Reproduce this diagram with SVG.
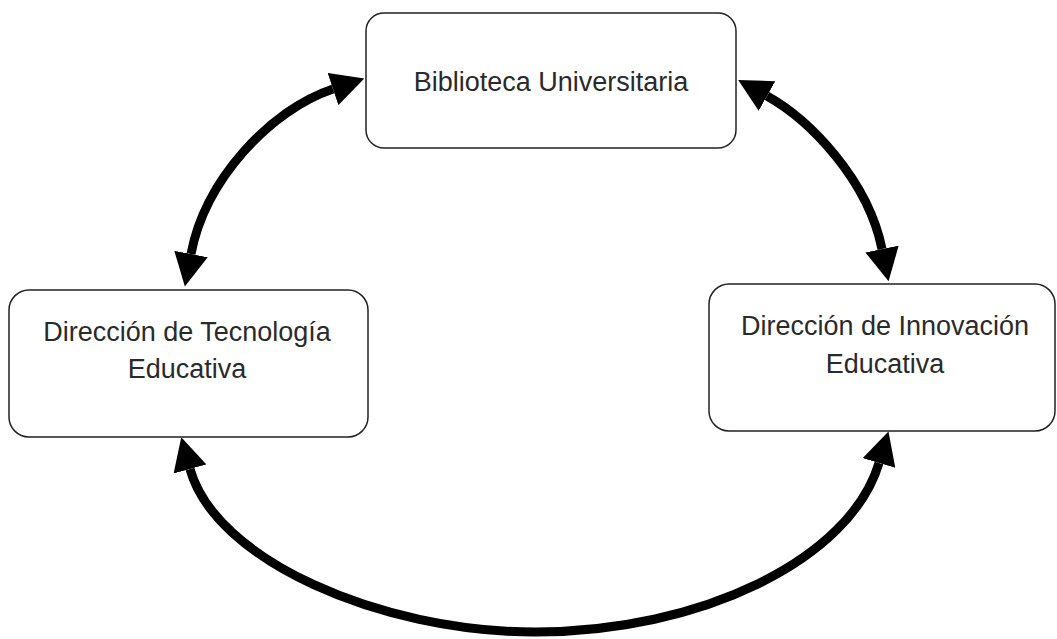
<svg xmlns="http://www.w3.org/2000/svg" width="1057" height="639" viewBox="0 0 1057 639">
<style>
.box{fill:#fff;stroke:#222;stroke-width:1.5}
.lbl{font-family:"Liberation Sans",Arial,sans-serif;font-size:27px;fill:#2a2a2a;text-anchor:middle}
.con{fill:none;stroke:#000;stroke-width:9;marker-start:url(#ah);marker-end:url(#ah)}
</style>
<defs>
<marker id="ah" markerUnits="userSpaceOnUse" markerWidth="34" markerHeight="34" refX="0" refY="17" orient="auto-start-reverse" viewBox="0 0 34 34">
<path d="M0,0 L33,17 L0,34 Z" fill="#000"/>
</marker>
</defs>
<rect width="1057" height="639" fill="#fff"/>
<g id="connectors">
<path class="con" d="M333,89 C270,110 205,180 191,254"/>
<path class="con" d="M767,96 C810,120 868,180 882,249"/>
<path class="con" d="M190,469 C215,560 380,632 535,632 C700,632 850,560 879,463"/>
</g>
<g id="biblioteca">
<rect class="box" x="366" y="13" width="370" height="135" rx="18"/>
<text class="lbl" x="551" y="91">Biblioteca Universitaria</text>
</g>
<g id="tecnologia">
<rect class="box" x="9" y="290" width="359" height="147" rx="20"/>
<text class="lbl" x="187" y="341">Dirección de Tecnología</text>
<text class="lbl" x="187" y="378">Educativa</text>
</g>
<g id="innovacion">
<rect class="box" x="709" y="284" width="346" height="147" rx="20"/>
<text class="lbl" x="885" y="335">Dirección de Innovación</text>
<text class="lbl" x="885" y="373">Educativa</text>
</g>
</svg>
